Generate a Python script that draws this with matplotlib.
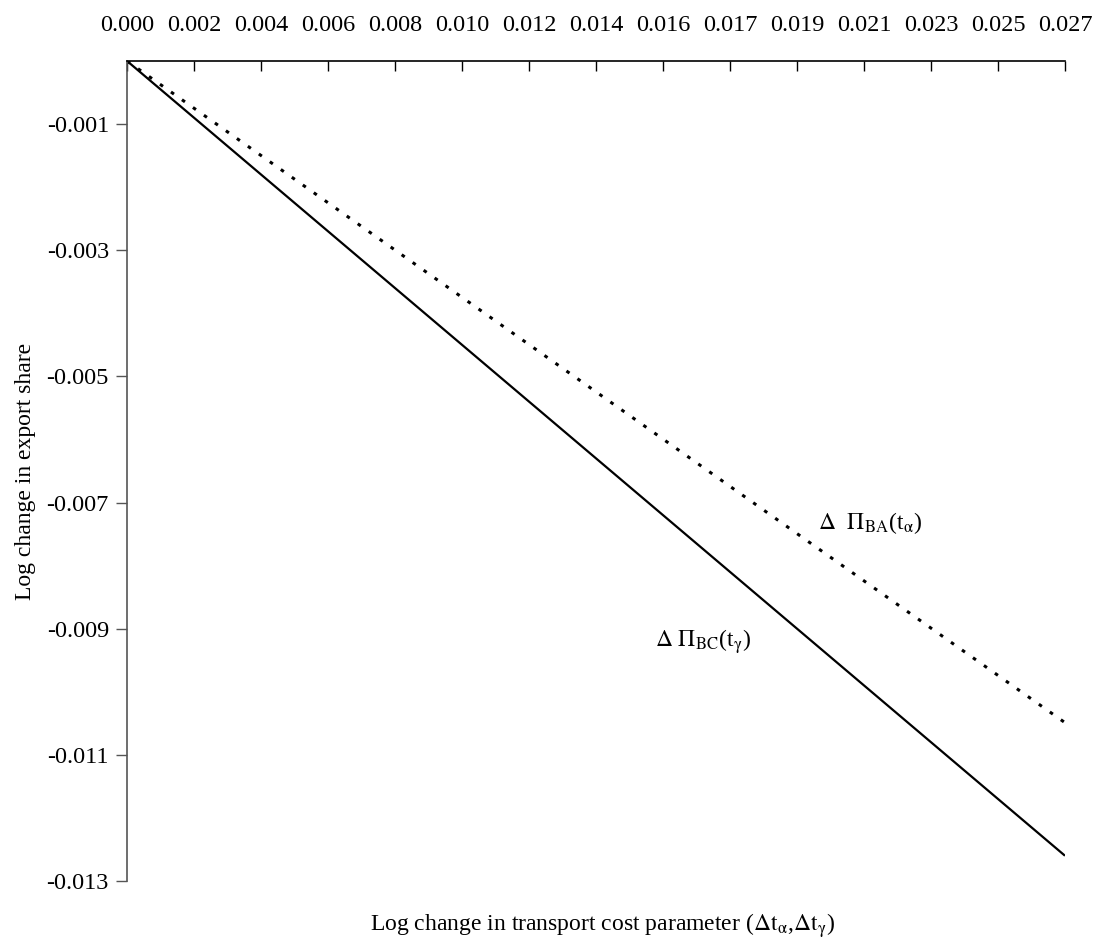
import matplotlib
matplotlib.use("Agg")
import numpy as np
import matplotlib.pyplot as plt

plt.rcParams['font.family'] = ['Liberation Serif', 'DejaVu Serif']
plt.rcParams['mathtext.fontset'] = 'stix'

# transport cost change (x) and log change in export share for the two curves
dt = [0.0, 0.02716]
pi_bc = [0.0, -0.0126]
pi_ba = [0.0, -0.01049]

x_ticks = [i * 0.00194 for i in range(15)]
y_ticks = [-0.001, -0.003, -0.005, -0.007, -0.009, -0.011, -0.013]

fig = plt.figure(figsize=(10.96, 9.41), dpi=100)
ax = fig.add_axes([0.1159, 0.0638, 0.9717 - 0.1159, 0.9352 - 0.0638])

ax.plot(dt, pi_bc, color='black', lw=1.6, solid_capstyle='butt')
ax.plot(dt, pi_ba, color='black', lw=2.2, linestyle=(0, (1.2, 3.2)))

ax.set_xlim(0, x_ticks[-1])
ax.set_ylim(-0.013, 0)

# x axis sits on top at y = 0
ax.xaxis.tick_top()
ax.set_xticks(x_ticks)
ax.set_xticklabels(['%.3f' % v for v in x_ticks])
ax.tick_params(axis='x', direction='in', length=7, width=1, pad=18, labelsize=17.5)
ax.set_yticks(y_ticks)
ax.set_yticklabels(['%.3f' % v for v in y_ticks])
ax.tick_params(axis='y', direction='out', length=8, width=1, color='#555555', pad=5, labelsize=17.5)

for s in ['right', 'bottom']:
    ax.spines[s].set_visible(False)
ax.spines['top'].set_linewidth(1.2)
ax.spines['left'].set_color('#555555')
ax.spines['left'].set_linewidth(1.2)

fig.text(0.023, 1 - 471 / 941, 'Log change in export share', rotation=90, ha='center', va='center', fontsize=17)
fig.text(602 / 1096, 1 - 926 / 941, r'Log change in transport cost parameter ($\Delta\mathrm{t}_{\mathrm{α}}$,$\Delta\mathrm{t}_{\mathrm{γ}}$)',
         ha='center', va='center', fontsize=17)

ax.text(0.0200, -0.00732, r'$\Delta$  $\Pi_{\mathrm{BA}}$(t$_{\mathrm{α}}$)', fontsize=17, va='center')
ax.text(0.0153, -0.0092, r'$\Delta$ $\Pi_{\mathrm{BC}}$(t$_{\mathrm{γ}}$)', fontsize=17, va='center')

fig.savefig('out.png', dpi=100, facecolor='white')
